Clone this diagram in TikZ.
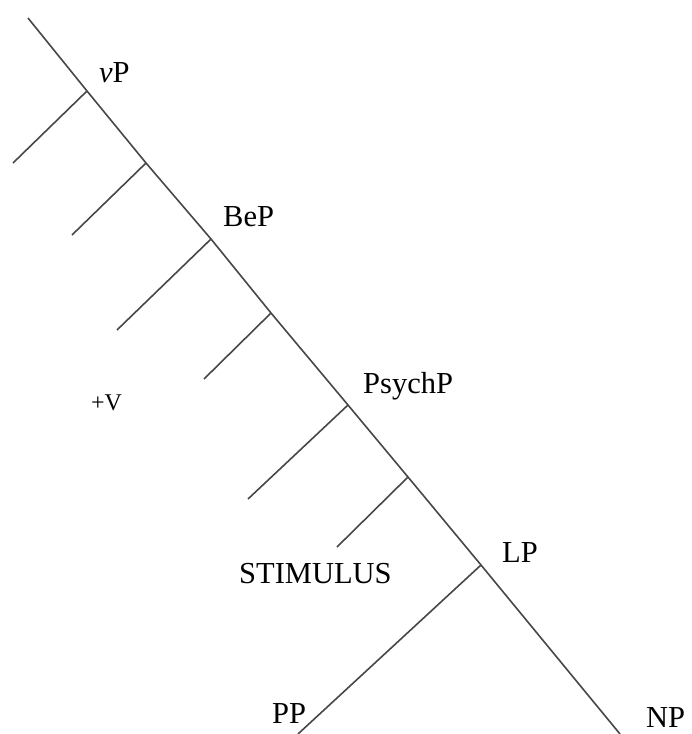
\documentclass[tikz,border=0pt]{standalone}
\usepackage{fontspec}
\setmainfont{Liberation Serif}
\begin{document}
\begin{tikzpicture}[x=1pt,y=-1pt,
  branch/.style={draw=black!72,line width=1.6pt},
  lab/.style={anchor=base west,inner sep=0pt,font=\fontsize{30.5}{30.5}\selectfont},
  smalllab/.style={anchor=base west,inner sep=0pt,font=\fontsize{24}{24}\selectfont}]
\useasboundingbox (0,0) rectangle (692,734);
% spine
\coordinate (top) at (28,18);
\coordinate (j1) at (87,91);
\coordinate (j2) at (146,163);
\coordinate (j3) at (211,239);
\coordinate (j4) at (271,313);
\coordinate (j5) at (348,405);
\coordinate (j6) at (408,477);
\coordinate (j7) at (481,565);
\coordinate (np) at (620,734);
% branch ends
\coordinate (e1) at (13,163);
\coordinate (e2) at (72,235);
\coordinate (e3) at (117,330);
\coordinate (e4) at (204,379);
\coordinate (e5) at (248,499);
\coordinate (e6) at (337,547);
\coordinate (e7) at (298,734);
\draw[branch] (top) -- (j1) -- (j2) -- (j3) -- (j4) -- (j5) -- (j6) -- (j7) -- (np);
\draw[branch] (j1) -- (e1);
\draw[branch] (j2) -- (e2);
\draw[branch] (j3) -- (e3);
\draw[branch] (j4) -- (e4);
\draw[branch] (j5) -- (e5);
\draw[branch] (j6) -- (e6);
\draw[branch] (j7) -- (e7);
% labels
\node[lab] (vP) at (99,82) {\itshape ν\upshape P};
\node[lab] (BeP) at (223,226) {BeP};
\node[lab] (PsychP) at (363,393) {PsychP};
\node[smalllab] (V) at (91,410) {+V};
\node[lab] (STIM) at (239,583) {STIMULUS};
\node[lab] (LP) at (502,562) {LP};
\node[lab] (PP) at (272,723) {PP};
\node[lab] (NP) at (646,727) {NP};
\end{tikzpicture}
\end{document}
